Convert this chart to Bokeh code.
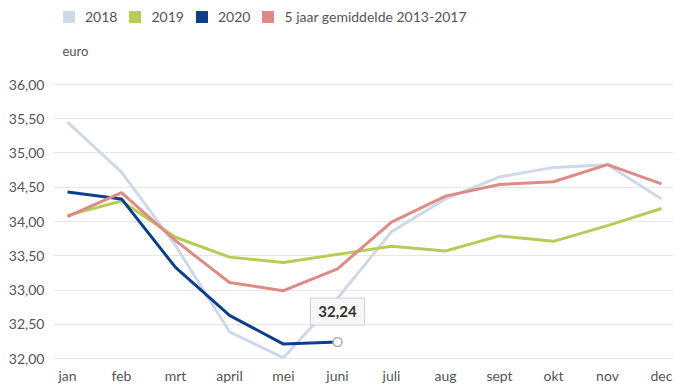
from bokeh.plotting import figure
from bokeh.layouts import column
from bokeh.models import (Range1d, FixedTicker, CustomJSTickFormatter, Legend, LegendItem, Label)
from bokeh.embed import file_html
from bokeh.resources import INLINE

months = ["jan", "feb", "mrt", "april", "mei", "juni", "juli", "aug", "sept", "okt", "nov", "dec"]
y2018 = [35.45, 34.72, 33.65, 32.39, 32.01, 32.88, 33.85, 34.33, 34.65, 34.79, 34.83, 34.33]
y2019 = [34.09, 34.30, 33.77, 33.48, 33.40, 33.52, 33.64, 33.57, 33.79, 33.71, 33.94, 34.19]
y2020 = [34.43, 34.33, 33.33, 32.63, 32.21, 32.24]
y5jaar = [34.07, 34.42, 33.72, 33.11, 32.99, 33.31, 33.99, 34.37, 34.54, 34.58, 34.83, 34.55]
names = ["2018", "2019", "2020", "5 jaar gemiddelde 2013-2017"]
colors = ["#cdd8e8", "#b5cc57", "#0b3f8c", "#e08a86"]
y_ticks = [32.0, 32.5, 33.0, 33.5, 34.0, 34.5, 35.0, 35.5, 36.0]
unit_label = "euro"

FONT = "Lato"
TXT = "#555555"

x = list(range(len(months)))
series = [y2018, y2019, y2020, y5jaar]

W = 678
LEG_H = 76
LEFT, RIGHT, BOTTOM, TOP = 53, 5, 25, 7
PX_PER_UNIT = 69.0
top_val = 36 + 1 / PX_PER_UNIT
bot_val = 32 - 1 / PX_PER_UNIT
FRAME_H = round((top_val - bot_val) * PX_PER_UNIT)
H = TOP + FRAME_H + BOTTOM
FRAME_W = W - LEFT - RIGHT
px_x = (FRAME_W - 26) / 11.0

# ---- header figure: legend + unit text ----
hdr = figure(width=W, height=LEG_H, output_backend="svg", toolbar_location=None,
             x_range=Range1d(0, 1), y_range=Range1d(0, 1),
             x_axis_location=None, y_axis_location=None,
             min_border_left=0, min_border_right=0, min_border_top=0, min_border_bottom=0)
hdr.grid.visible = False
hdr.outline_line_color = None
items = []
for n, c, ys in zip(names, colors, series):
    # zero-area quad: only provides the legend swatch
    r = hdr.quad(left=[ys[0]], right=[ys[0]], top=[ys[0]], bottom=[ys[0]],
                 fill_color=c, line_color=None)
    items.append(LegendItem(label=n, renderers=[r]))
legend = Legend(items=items, orientation="horizontal", location="top_left",
                label_text_font=FONT, label_text_font_size="14px", label_text_color=TXT,
                glyph_width=15, glyph_height=15, label_standoff=9, spacing=10,
                padding=0, margin=8, border_line_color=None, background_fill_alpha=0,
                label_height=15)
hdr.add_layout(legend)
hdr.add_layout(Label(x=9, y=LEG_H - 50, x_units="screen", y_units="screen", text=unit_label,
                     text_font=FONT, text_font_size="13px", text_color=TXT,
                     text_baseline="middle"))

# ---- main chart ----
p = figure(width=W, height=H, output_backend="svg", toolbar_location=None,
           x_range=Range1d(-14 / px_x, 11 + 12 / px_x), y_range=Range1d(bot_val, top_val),
           min_border_left=LEFT, min_border_right=RIGHT, min_border_bottom=BOTTOM,
           min_border_top=TOP)
p.outline_line_color = None
p.background_fill_color = "white"
p.border_fill_color = "white"

for ys, c in zip(series, colors):
    p.line(x[:len(ys)], ys, line_color=c, line_width=3)

last_i = len(y2020) - 1
p.scatter([x[last_i]], [y2020[last_i]], size=9, fill_color="white", line_color="#aaaaaa",
          line_width=1.5)
tip = Label(x=x[last_i], y=y2020[last_i], text=f"{y2020[last_i]:.2f}".replace(".", ","),
            text_font=FONT, text_font_size="15px", text_font_style="bold", text_color="#333333",
            text_align="center", text_baseline="bottom", y_offset=17,
            background_fill_color="#f7f7f7", border_line_color="#cccccc", padding=8)
p.add_layout(tip)

p.xaxis.ticker = FixedTicker(ticks=x)
p.xaxis.major_label_overrides = {i: m for i, m in zip(x, months)}
p.yaxis.ticker = FixedTicker(ticks=y_ticks)
p.yaxis.formatter = CustomJSTickFormatter(code="return tick.toFixed(2).replace('.', ',');")
for ax in (p.xaxis[0], p.yaxis[0]):
    ax.axis_line_color = None
    ax.major_tick_line_color = None
    ax.minor_tick_line_color = None
    ax.major_tick_out = 0
    ax.major_tick_in = 0
    ax.minor_tick_out = 0
    ax.minor_tick_in = 0
    ax.major_label_text_font = FONT
    ax.major_label_text_font_size = "14px"
    ax.major_label_text_color = TXT
p.xaxis.major_label_standoff = 7
p.yaxis.major_label_standoff = 9
p.xgrid.grid_line_color = None
p.ygrid.grid_line_color = "#e6e6e6"
p.ygrid.grid_line_width = 1

layout = column(hdr, p, spacing=0)
open("out.html", "w").write(file_html(layout, INLINE))
